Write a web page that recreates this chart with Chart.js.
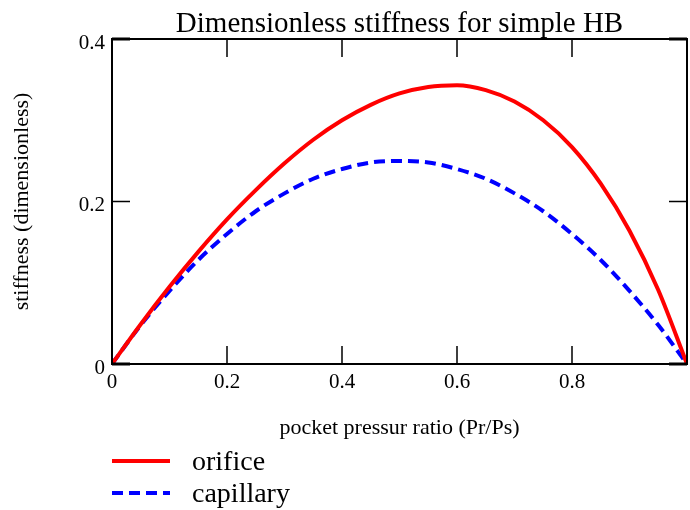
<!DOCTYPE html>
<html lang="en">
<head>
    <meta charset="UTF-8">
    <title>Dimensionless stiffness for simple HB</title>
    <script src="https://cdn.jsdelivr.net/npm/chart.js"></script>
    <style>
        html, body { margin: 0; padding: 0; background: #fff; }
        #wrap { width: 690px; height: 510px; }
    </style>
</head>
<body>
    <div id="wrap"><canvas id="hbChart"></canvas></div>

    <script>
        // pressure ratio Pr/Ps
        const ratio = [0, 0.05, 0.1, 0.15, 0.2, 0.25, 0.3, 0.35, 0.4, 0.45, 0.5,
                       0.55, 0.6, 0.65, 0.7, 0.75, 0.8, 0.85, 0.9, 0.95, 1];

        // stiffness
        const orifice = [0, 0.049, 0.095, 0.138, 0.178, 0.214, 0.247, 0.276, 0.300, 0.319, 0.333,
                         0.341, 0.343, 0.337, 0.323, 0.300, 0.267, 0.222, 0.164, 0.091, 0];
        const capillary = [0, 0.048, 0.090, 0.128, 0.160, 0.188, 0.210, 0.228, 0.240, 0.248, 0.250,
                           0.248, 0.240, 0.228, 0.210, 0.188, 0.160, 0.128, 0.090, 0.048, 0];

        const xTicks = [0, 0.2, 0.4, 0.6, 0.8];
        const yTicks = [0, 0.2, 0.4];

        const serif = '"Liberation Serif", "Times New Roman", serif';

        const toPoints = (ys) => ratio.map((x, i) => ({ x: x, y: ys[i] }));

        // frame box with inward ticks on all four sides
        const framePlugin = {
            id: 'frame',
            afterDatasetsDraw(chart) {
                const { ctx, chartArea: a, scales } = chart;
                const len = 18;
                ctx.save();
                ctx.strokeStyle = '#000';
                ctx.lineWidth = 1.5;
                xTicks.forEach((v) => {
                    if (v === 0) return;
                    const px = scales.x.getPixelForValue(v);
                    ctx.beginPath();
                    ctx.moveTo(px, a.bottom); ctx.lineTo(px, a.bottom - len);
                    ctx.moveTo(px, a.top); ctx.lineTo(px, a.top + len);
                    ctx.stroke();
                });
                yTicks.forEach((v) => {
                    const py = scales.y.getPixelForValue(v);
                    ctx.lineWidth = (v === 0.2) ? 1.5 : 3;
                    ctx.beginPath();
                    ctx.moveTo(a.left, py); ctx.lineTo(a.left + len, py);
                    ctx.moveTo(a.right, py); ctx.lineTo(a.right - len, py);
                    ctx.stroke();
                });
                ctx.lineWidth = 2;
                ctx.strokeRect(a.left, a.top, a.right - a.left, a.bottom - a.top);
                ctx.restore();
            }
        };

        // title centred over the plot box
        const titlePlugin = {
            id: 'plotTitle',
            afterDraw(chart) {
                const { ctx, chartArea: a } = chart;
                ctx.save();
                ctx.fillStyle = '#000';
                ctx.font = '29px ' + serif;
                ctx.textAlign = 'center';
                ctx.textBaseline = 'alphabetic';
                ctx.fillText('Dimensionless stiffness for simple HB', (a.left + a.right) / 2, 32);
                ctx.restore();
            }
        };

        // legend under the axis title, left aligned with the plot box
        const legendPlugin = {
            id: 'lineLegend',
            afterDraw(chart) {
                const { ctx, chartArea: a } = chart;
                const rows = [461, 493];
                ctx.save();
                chart.data.datasets.forEach((ds, i) => {
                    const y = rows[i];
                    ctx.strokeStyle = ds.borderColor;
                    ctx.lineWidth = ds.borderWidth;
                    ctx.setLineDash(ds.borderDash || []);
                    ctx.beginPath();
                    ctx.moveTo(a.left, y);
                    ctx.lineTo(a.left + 58, y);
                    ctx.stroke();
                    ctx.setLineDash([]);
                    ctx.fillStyle = '#000';
                    ctx.font = '28px ' + serif;
                    ctx.textAlign = 'left';
                    ctx.textBaseline = 'middle';
                    ctx.fillText(ds.label, a.left + 80, y + 2);
                });
                ctx.restore();
            }
        };

        const config = {
            type: 'line',
            data: {
                datasets: [
                    {
                        label: 'orifice',
                        data: toPoints(orifice),
                        borderColor: '#ff0000',
                        borderWidth: 4,
                        pointRadius: 0,
                        cubicInterpolationMode: 'monotone',
                        fill: false
                    },
                    {
                        label: 'capillary',
                        data: toPoints(capillary),
                        borderColor: '#0000ff',
                        borderWidth: 4,
                        borderDash: [11, 6],
                        pointRadius: 0,
                        cubicInterpolationMode: 'monotone',
                        fill: false
                    }
                ]
            },
            options: {
                responsive: true,
                maintainAspectRatio: false,
                animation: false,
                layout: { padding: { top: 39, right: 3, left: 0, bottom: 0 } },
                plugins: {
                    legend: { display: false },
                    tooltip: { enabled: false }
                },
                scales: {
                    x: {
                        type: 'linear',
                        min: 0,
                        max: 1,
                        afterBuildTicks: (s) => { s.ticks = xTicks.map((v) => ({ value: v })); },
                        afterFit: (s) => { s.height = 146; },
                        grid: { display: false, drawTicks: false },
                        border: { display: false },
                        ticks: {
                            padding: 6,
                            color: '#000',
                            font: { family: serif, size: 21 },
                            callback: (v) => String(v)
                        },
                        title: {
                            display: true,
                            text: 'pocket pressur ratio (Pr/Ps)',
                            color: '#000',
                            font: { family: serif, size: 22 },
                            padding: { top: 0, bottom: 69 }
                        }
                    },
                    y: {
                        type: 'linear',
                        min: 0,
                        max: 0.4,
                        afterBuildTicks: (s) => { s.ticks = yTicks.map((v) => ({ value: v })); },
                        afterFit: (s) => { s.width = 112; },
                        grid: { display: false, drawTicks: false },
                        border: { display: false },
                        ticks: {
                            padding: 7,
                            labelOffset: 4,
                            color: '#000',
                            font: { family: serif, size: 21 },
                            callback: (v) => String(v)
                        },
                        title: {
                            display: true,
                            text: 'stiffness (dimensionless)',
                            color: '#000',
                            font: { family: serif, size: 22 },
                            padding: { top: 9, bottom: 0 }
                        }
                    }
                }
            },
            plugins: [framePlugin, titlePlugin, legendPlugin]
        };

        new Chart(document.getElementById('hbChart'), config);
    </script>
</body>
</html>
